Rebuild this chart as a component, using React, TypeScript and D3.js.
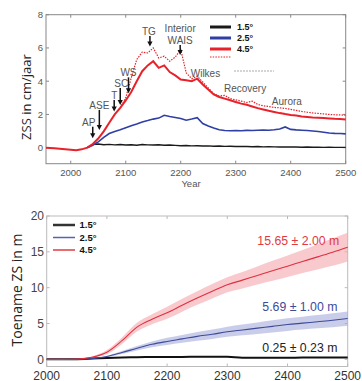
import * as d3 from "d3";
import {useRef, useEffect} from "react";

// top panel: ZSS rate (cm/jaar)
const topYears = [1955, 1970, 1985, ...d3.range(2000, 2501, 10)];
const red45 = [0.0, -0.03, -0.08, -0.13, -0.16, -0.1, 0.0, 0.22, 0.55, 0.98, 1.5, 2.0, 2.4,
    2.85, 3.35, 4.0, 4.6, 4.95, 5.2, 4.8, 4.95, 4.55, 4.35,
    4.1, 4.05, 4.0, 4.15, 3.8, 3.5, 3.2, 3.05, 2.95, 2.85,
    2.75, 2.65, 2.58, 2.48, 2.38, 2.3, 2.22, 2.15, 2.08, 2.02,
    1.97, 1.93, 1.88, 1.85, 1.82, 1.8, 1.78, 1.76, 1.74, 1.73, 1.7];
const red45dot = [null, null, null, null, null, null, null, null, null, null, null, null, 2.4,
    3.0, 4.2, 5.3, 5.75, 5.7, 6.0, 5.4, 5.5, 5.2, 5.45,
    5.9, 4.5, 4.15, 4.3, 3.95, 3.6, 3.25, 3.1, 3.15, 2.95,
    2.88, 2.8, 2.72, 2.8, 2.6, 2.52, 2.48, 2.42, 2.4, 2.36,
    2.3, 2.24, 2.18, 2.13, 2.09, 2.06, 2.03, 2.0, 1.98, 1.97, 1.95];
const blue25 = [null, null, null, null, null, null, 0.0, 0.15, 0.35, 0.62, 0.85, 0.98, 1.08,
    1.2, 1.32, 1.43, 1.55, 1.63, 1.72, 1.78, 1.95, 1.88, 1.82,
    1.75, 1.65, 1.72, 1.8, 1.45, 1.3, 1.18, 1.08, 1.03, 1.02,
    1.03, 1.02, 1.04, 1.03, 1.05, 1.06, 1.05, 1.08, 1.12, 1.25,
    1.1, 1.07, 1.05, 1.03, 1.0, 0.97, 0.93, 0.88, 0.86, 0.85, 0.83];
const black15 = [null, null, null, null, null, null, 0.0, 0.2, 0.22, 0.18, 0.2, 0.17, 0.19,
    0.16, 0.18, 0.15, 0.19, 0.17, 0.16, 0.18, 0.15, 0.16, 0.14,
    0.12, 0.13, 0.11, 0.12, 0.1, 0.11, 0.09, 0.1, 0.08, 0.09,
    0.07, 0.08, 0.07, 0.06, 0.07, 0.05, 0.06, 0.05, 0.04, 0.05,
    0.04, 0.04, 0.03, 0.04, 0.03, 0.03, 0.02, 0.03, 0.02, 0.02, 0.02];

const topXTicks = [2000, 2100, 2200, 2300, 2400, 2500];
const topYTicks = [0, 2, 4, 6, 8];

const arrowLabels = ["AP", "ASE", "T", "SC", "WS", "TG", "WAIS"];
const arrowYears = [2040, 2052, 2079, 2090, 2105, 2144, 2199];
const arrowTips = [0.57, 1.06, 2.17, 2.56, 3.27, 6.08, 5.58];
const arrowTails = [1.26, 2.27, 2.87, 3.59, 4.23, 6.72, 6.18];
const arrowDx = [-4, 0, 0, 1, 0, -1, 0];

const noteLabels = ["Wilkes", "Recovery", "Aurora"];
const noteYears = [2245, 2317, 2393];
const noteValues = [4.28, 3.32, 2.57];

// bottom panel: cumulative rise (m)
const bottomYears = d3.range(2000, 2501, 25);
const redRise = [0, 0, 0.05, 0.3, 1.0, 2.6, 4.5, 5.6, 6.5, 7.55, 8.55, 9.5, 10.4, 11.05, 11.7, 12.35, 13.0, 13.65, 14.3, 14.95, 15.65];
const redBand = [0, 0, 0.02, 0.1, 0.3, 0.45, 0.6, 0.7, 0.85, 0.9, 0.95, 1.0, 1.05, 1.15, 1.25, 1.4, 1.5, 1.6, 1.75, 1.9, 2.0];
const blueRise = [0, 0, 0, 0.1, 0.4, 0.95, 1.55, 2.1, 2.5, 2.85, 3.2, 3.5, 3.85, 4.1, 4.35, 4.6, 4.85, 5.05, 5.25, 5.45, 5.69];
const blueBand = [0, 0, 0, 0.05, 0.1, 0.2, 0.3, 0.4, 0.5, 0.55, 0.6, 0.65, 0.7, 0.75, 0.8, 0.85, 0.88, 0.9, 0.93, 0.97, 1.0];
const blackRise = [0, 0, 0.02, 0.1, 0.2, 0.27, 0.3, 0.32, 0.33, 0.34, 0.35, 0.35, 0.35, 0.22, 0.22, 0.23, 0.23, 0.24, 0.24, 0.25, 0.25];

const bottomXTicks = [2000, 2100, 2200, 2300, 2400, 2500];
const bottomYTicks = [0, 5, 10, 15, 20];
const endLabels = ["15.65 ± 2.00 m", "5.69 ± 1.00 m", "0.25 ± 0.23 m"];
const endValues = [15.9, 6.74, 1.09];

const legendLabels = ["1.5°", "2.5°", "4.5°"];

const RED = "#e8222b";
const BLUE = "#2f3fa3";
const BLACK = "#1a1a1a";

export default function App() {
    const svgRef = useRef<SVGSVGElement>(null);

    useEffect(() => {
        const svg = d3.select(svgRef.current);
        svg.selectAll("*").remove();
        const sans = "Liberation Sans, Arial, sans-serif";

        // ---------- top panel ----------
        const x = d3.scaleLinear().domain([1955, 2500]).range([46, 345.7]);
        const y = d3.scaleLinear().domain([-1, 8]).range([164.3, 14.7]);
        const top = svg.append("g");

        top.append("rect")
            .attr("x", 46).attr("y", 14.7)
            .attr("width", 299.7).attr("height", 149)
            .attr("fill", "none").attr("stroke", "#888").attr("stroke-width", 1);

        topYTicks.forEach(t => {
            top.append("line").attr("x1", 46).attr("x2", 49).attr("y1", y(t)).attr("y2", y(t)).attr("stroke", "#888");
            top.append("line").attr("x1", 345.7).attr("x2", 342.7).attr("y1", y(t)).attr("y2", y(t)).attr("stroke", "#888");
            top.append("text").attr("x", 43).attr("y", y(t)).attr("dy", "0.35em")
                .attr("text-anchor", "end").attr("font-family", sans).attr("font-size", 9.5)
                .attr("fill", "#555").text(t);
        });
        topXTicks.forEach(t => {
            top.append("line").attr("x1", x(t)).attr("x2", x(t)).attr("y1", 163.7).attr("y2", 160.7).attr("stroke", "#888");
            top.append("line").attr("x1", x(t)).attr("x2", x(t)).attr("y1", 14.7).attr("y2", 17.7).attr("stroke", "#888");
            top.append("text").attr("x", x(t)).attr("y", 176)
                .attr("text-anchor", "middle").attr("font-family", sans).attr("font-size", 9.5)
                .attr("fill", "#555").text(t);
        });
        top.append("text").attr("x", 191).attr("y", 187)
            .attr("text-anchor", "middle").attr("font-family", sans).attr("font-size", 9.5)
            .attr("fill", "#555").text("Year");
        top.append("text")
            .attr("transform", "translate(31,97) rotate(-90)")
            .attr("text-anchor", "middle").attr("font-family", "Open Sans, sans-serif").attr("font-size", 13)
            .attr("fill", "#222").text("ZSS in cm/jaar");

        const line = d3.line<number | null>()
            .defined(d => d !== null)
            .x((_, i) => x(topYears[i]))
            .y(d => y(d as number));

        top.append("path").datum(black15).attr("d", line)
            .attr("fill", "none").attr("stroke", BLACK).attr("stroke-width", 1.4);
        top.append("path").datum(blue25).attr("d", line)
            .attr("fill", "none").attr("stroke", BLUE).attr("stroke-width", 1.6);
        top.append("path").datum(red45dot).attr("d", line)
            .attr("fill", "none").attr("stroke", RED).attr("stroke-width", 1.2)
            .attr("stroke-dasharray", "1.5,1.2");
        top.append("path").datum(red45).attr("d", line)
            .attr("fill", "none").attr("stroke", RED).attr("stroke-width", 2);

        // arrows
        arrowLabels.forEach((lab, i) => {
            const ax = x(arrowYears[i]);
            const tip = y(arrowTips[i]);
            const tail = y(arrowTails[i]);
            top.append("line").attr("x1", ax).attr("x2", ax).attr("y1", tail).attr("y2", tip - 3)
                .attr("stroke", "#111").attr("stroke-width", 1.5);
            top.append("path")
                .attr("d", `M${ax - 2.6},${tip - 5} L${ax + 2.6},${tip - 5} L${ax},${tip} Z`)
                .attr("fill", "#111");
            top.append("text").attr("x", ax + arrowDx[i]).attr("y", tail - 1)
                .attr("text-anchor", "middle").attr("font-family", sans).attr("font-size", 10)
                .attr("fill", "#555").text(lab);
            if (lab === "WAIS") {
                top.append("text").attr("x", ax + arrowDx[i]).attr("y", tail - 12.5)
                    .attr("text-anchor", "middle").attr("font-family", sans).attr("font-size", 10)
                    .attr("fill", "#555").text("Interior");
            }
        });
        noteLabels.forEach((lab, i) => {
            top.append("text").attr("x", x(noteYears[i])).attr("y", y(noteValues[i]))
                .attr("text-anchor", "middle").attr("font-family", sans).attr("font-size", 10)
                .attr("fill", "#555").text(lab);
        });

        // top legend
        const topLegendColors = [BLACK, BLUE, RED];
        const topLegendY = [27, 38, 49];
        legendLabels.forEach((lab, i) => {
            top.append("line").attr("x1", 210).attr("x2", 231).attr("y1", topLegendY[i]).attr("y2", topLegendY[i])
                .attr("stroke", topLegendColors[i]).attr("stroke-width", 3);
            top.append("text").attr("x", 237).attr("y", topLegendY[i]).attr("dy", "0.35em")
                .attr("font-family", sans).attr("font-size", 9).attr("font-weight", "bold")
                .attr("fill", "#111").text(lab);
        });
        top.append("line").attr("x1", 210).attr("x2", 231).attr("y1", 57).attr("y2", 57)
            .attr("stroke", RED).attr("stroke-width", 1.2).attr("stroke-dasharray", "1.5,1.2");
        top.append("line").attr("x1", 234).attr("x2", 274).attr("y1", 71).attr("y2", 71)
            .attr("stroke", "#aaa").attr("stroke-width", 1).attr("stroke-dasharray", "2,1");

        // ---------- bottom panel ----------
        const xb = d3.scaleLinear().domain([2000, 2500]).range([46.7, 347.7]);
        const yb = d3.scaleLinear().domain([-1, 20]).range([366.5, 216]);
        const bot = svg.append("g");

        bot.append("rect")
            .attr("x", 46.7).attr("y", 216)
            .attr("width", 301).attr("height", 150.5)
            .attr("fill", "none").attr("stroke", "#bbb").attr("stroke-width", 1);

        bottomYTicks.forEach(t => {
            bot.append("line").attr("x1", 46.7).attr("x2", 49.7).attr("y1", yb(t)).attr("y2", yb(t)).attr("stroke", "#bbb");
            bot.append("line").attr("x1", 347.7).attr("x2", 344.7).attr("y1", yb(t)).attr("y2", yb(t)).attr("stroke", "#bbb");
            bot.append("text").attr("x", 44).attr("y", yb(t)).attr("dy", "0.35em")
                .attr("text-anchor", "end").attr("font-family", sans).attr("font-size", 12)
                .attr("fill", "#444").text(t);
        });
        bottomXTicks.forEach(t => {
            bot.append("line").attr("x1", xb(t)).attr("x2", xb(t)).attr("y1", 366.5).attr("y2", 363.5).attr("stroke", "#bbb");
            bot.append("line").attr("x1", xb(t)).attr("x2", xb(t)).attr("y1", 216).attr("y2", 219).attr("stroke", "#bbb");
            bot.append("text").attr("x", xb(t)).attr("y", 379.5)
                .attr("text-anchor", "middle").attr("font-family", sans).attr("font-size", 12)
                .attr("fill", "#333").text(t);
        });
        bot.append("text")
            .attr("transform", "translate(22,290) rotate(-90)")
            .attr("text-anchor", "middle").attr("font-family", "Open Sans, sans-serif").attr("font-size", 14)
            .attr("fill", "#222").text("Toename ZS in m");

        const area = (mean: number[], band: number[]) => d3.area<number>()
            .x((_, i) => xb(bottomYears[i]))
            .y0((d, i) => yb(d - band[i]))
            .y1((d, i) => yb(d + band[i]))
            .curve(d3.curveMonotoneX)(mean);
        const lineB = d3.line<number>()
            .x((_, i) => xb(bottomYears[i]))
            .y(d => yb(d))
            .curve(d3.curveMonotoneX);

        bot.append("path").attr("d", area(redRise, redBand)).attr("fill", "#f4a5ab").attr("opacity", 0.6);
        bot.append("path").attr("d", area(blueRise, blueBand)).attr("fill", "#a5acdc").attr("opacity", 0.6);
        bot.append("path").datum(blackRise).attr("d", lineB)
            .attr("fill", "none").attr("stroke", "#111").attr("stroke-width", 2);
        bot.append("path").datum(blueRise).attr("d", lineB)
            .attr("fill", "none").attr("stroke", "#3d4a98").attr("stroke-width", 1.1);
        bot.append("path").datum(redRise).attr("d", lineB)
            .attr("fill", "none").attr("stroke", "#e03040").attr("stroke-width", 1.1);

        const endColors = ["#e03a3e", "#3c4a9a", "#222"];
        const endYears = [2486, 2483, 2483];
        endLabels.forEach((lab, i) => {
            bot.append("text").attr("x", xb(endYears[i])).attr("y", yb(endValues[i]))
                .attr("text-anchor", "end").attr("font-family", sans).attr("font-size", 12.3)
                .attr("fill", endColors[i]).text(lab);
        });

        // bottom legend
        const botLegendColors = ["#333", "#5563b0", "#e03a3e"];
        const botLegendY = [225, 237.5, 250];
        legendLabels.forEach((lab, i) => {
            bot.append("line").attr("x1", 53).attr("x2", 75).attr("y1", botLegendY[i]).attr("y2", botLegendY[i])
                .attr("stroke", botLegendColors[i]).attr("stroke-width", i === 0 ? 2.5 : 1.5);
            bot.append("text").attr("x", 79.5).attr("y", botLegendY[i]).attr("dy", "0.35em")
                .attr("font-family", sans).attr("font-size", 9.5).attr("font-weight", "bold")
                .attr("fill", "#111").text(lab);
        });
    }, []);

    return (
        <svg ref={svgRef} width={362} height={381}
             style={{position: "absolute", left: 0, top: 0, background: "#fff"}} />
    );
}
